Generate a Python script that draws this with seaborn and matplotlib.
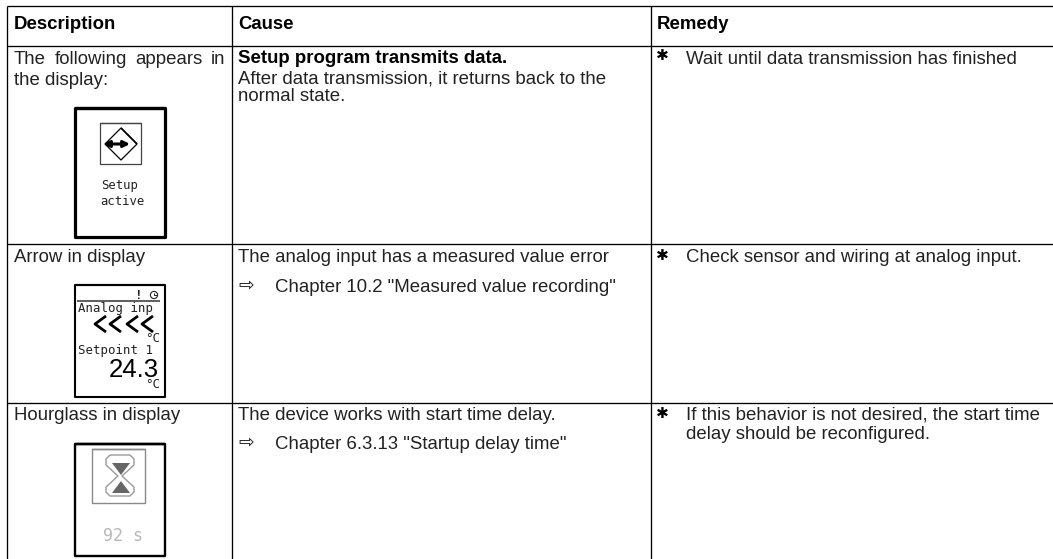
import matplotlib
matplotlib.use("Agg")
import matplotlib.pyplot as plt
import seaborn as sns

# ==================== Table content ====================
HEADERS = ["Description", "Cause", "Remedy"]
DESC_ROW1 = ["The following appears in", "the display:"]
DESC_ROW2 = "Arrow in display"
DESC_ROW3 = "Hourglass in display"
CAUSE_ROW1_BOLD = "Setup program transmits data."
CAUSE_ROW1 = ["After data transmission, it returns back to the", "normal state."]
CAUSE_ROW2 = ["The analog input has a measured value error", 'Chapter 10.2 "Measured value recording"']
CAUSE_ROW3 = ["The device works with start time delay.", 'Chapter 6.3.13 "Startup delay time"']
REMEDY_ROW1 = ["Wait until data transmission has finished"]
REMEDY_ROW2 = ["Check sensor and wiring at analog input."]
REMEDY_ROW3 = ["If this behavior is not desired, the start time", "delay should be reconfigured."]
ICON1_TEXT = ["Setup", "active"]
ICON2_TEXT = ["Analog inp", "Setpoint 1", "24.3", "°C"]
ICON3_TEXT = "92 s"

# ==================== Style ====================
sns.set_theme(style="white")
plt.rcParams["font.family"] = ["Liberation Sans", "DejaVu Sans"]
plt.rcParams["lines.solid_capstyle"] = "butt"

BODY = 13.4
INK = "#222222"
X_DESC, X_CAUSE, X_REM, X_REM_SYM = 14, 238, 686, 657
X_REF = 275

fig = plt.figure(figsize=(10.53, 5.59), dpi=100)
ax = fig.add_axes([0, 0, 1, 1])


def rule(xs, ys, color="#000000", lw=0.95):
    sns.lineplot(x=xs, y=ys, estimator=None, sort=False, ax=ax,
                 color=color, linewidth=lw, legend=False)


def frame(x0, y0, x1, y1, color="#000000", lw=2.0):
    rule([x0, x1, x1, x0, x0, x1], [y0, y0, y1, y1, y0, y0], color, lw)


def put(x, y, s, size=BODY, **kw):
    kw.setdefault("color", INK)
    ax.text(x, y, s, fontsize=size, va="baseline", ha=kw.pop("ha", "left"), **kw)


def put_justified(x0, x1, y, line):
    # spread the words of one line over the full cell width
    words = line.split()
    items = [ax.text(0, y, w, fontsize=BODY, color=INK, va="baseline") for w in words]
    r = fig.canvas.get_renderer()
    widths = [t.get_window_extent(r).width for t in items]
    gap = (x1 - x0 - sum(widths)) / (len(words) - 1)
    x = x0
    for t, w in zip(items, widths):
        t.set_x(x)
        x += w + gap


ax.set_xlim(0, 1053)
ax.set_ylim(559, 0)

# ---------- table rules ----------
for y in [6, 46, 244, 403]:
    rule([7, 1053], [y, y])
for x in [7, 232, 651]:
    rule([x, x], [6, 559])

# ---------- headers ----------
for x, s in zip([X_DESC, X_CAUSE, X_REM_SYM], HEADERS):
    put(x, 29, s, fontweight="bold", color="#000000")

# ---------- description column ----------
put_justified(X_DESC, 225, 64, DESC_ROW1[0])
put(X_DESC, 85, DESC_ROW1[1])
put(X_DESC, 262, DESC_ROW2)
put(X_DESC, 420, DESC_ROW3)

# ---------- cause column ----------
put(X_CAUSE, 63, CAUSE_ROW1_BOLD, fontweight="bold", color="#000000")
put(X_CAUSE, 83, CAUSE_ROW1[0])
put(X_CAUSE, 101, CAUSE_ROW1[1])
put(X_CAUSE, 262, CAUSE_ROW2[0])
put(X_REF, 292, CAUSE_ROW2[1])
put(X_CAUSE, 420, CAUSE_ROW3[0])
put(X_REF, 449, CAUSE_ROW3[1])
for y in [291, 448]:
    put(X_CAUSE, y, "⇨", size=13.5, family="DejaVu Sans")

# ---------- remedy column ----------
put(X_REM, 64, REMEDY_ROW1[0])
put(X_REM, 262, REMEDY_ROW2[0])
put(X_REM, 420, REMEDY_ROW3[0])
put(X_REM, 439, REMEDY_ROW3[1])
for y in [60.5, 260, 418]:
    put(X_REM_SYM - 1, y, "✱", size=11, family="DejaVu Sans", color="#000000")

# ---------- icon 1: setup active ----------
MONO = "DejaVu Sans Mono"
frame(75, 108, 165, 237, lw=2.3)
frame(100, 123, 141, 164, color="#444444", lw=0.9)
rule([121, 137, 121, 105, 121, 137], [128, 144, 160, 144, 128, 144], lw=0.9)
ax.annotate("", xy=(130, 144), xytext=(103, 144),
            arrowprops=dict(arrowstyle="<|-|>", color="black", lw=2.2,
                            mutation_scale=9, shrinkA=0, shrinkB=0))
put(120, 189, ICON1_TEXT[0], size=8.8, family=MONO, ha="center")
put(122, 205, ICON1_TEXT[1], size=8.8, family=MONO, ha="center")

# ---------- icon 2: measured value error ----------
frame(75, 285, 165, 397, lw=1.5)
rule([77, 160], [301, 301], color="#333333", lw=1.1)
put(139, 299, "!", size=9, family=MONO, fontweight="bold", ha="center")
ax.add_patch(plt.Circle((154, 295), 3.6, fill=False, ec="#222222", lw=0.8))
rule([154, 154, 157], [293, 295, 295], color="#222222", lw=0.7)
put(78, 312, ICON2_TEXT[0], size=8.9, family=MONO)
for x in [95, 110, 127, 142]:
    rule([x + 11, x, x + 11], [316, 324, 332], lw=2.0)
put(145, 342, ICON2_TEXT[3], size=9, family=MONO)
put(78, 354, ICON2_TEXT[1], size=8.9, family=MONO)
put(159, 377, ICON2_TEXT[2], size=18.5, ha="right", color="#000000")
put(145, 388, ICON2_TEXT[3], size=9, family=MONO)

# ---------- icon 3: hourglass ----------
frame(75, 444, 165, 556, lw=1.7)
frame(92, 449, 145, 503, color="#8a8a8a", lw=1.0)
rule([110, 130, 134, 134, 122, 134, 134, 130, 110, 106, 106, 118, 106, 106, 110],
     [455, 455, 459, 465, 476, 487, 492, 496, 496, 492, 487, 476, 465, 459, 455],
     color="#9a9a9a", lw=1.0)
ax.fill([112, 130, 121], [463, 463, 475], color="#666666", lw=0)
ax.fill([121, 130, 112], [481, 493, 493], color="#666666", lw=0)
put(123, 541, ICON3_TEXT, size=12, family=MONO, ha="center", color="#b8b8b8")

ax.set_xlim(0, 1053)
ax.set_ylim(559, 0)
ax.axis("off")
sns.despine(ax=ax, left=True, bottom=True)
fig.savefig("out.png", dpi=100, facecolor="white")
